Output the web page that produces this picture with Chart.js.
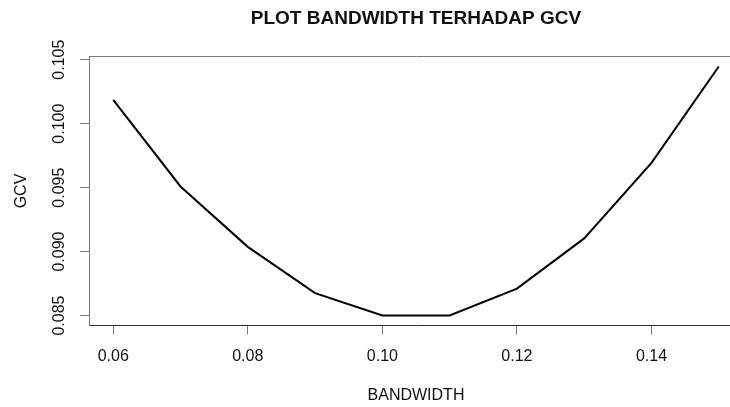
<!DOCTYPE html>
<html>
<head>
<meta charset="utf-8">
<script src="https://cdn.jsdelivr.net/npm/chart.js@4/dist/chart.umd.min.js"></script>
<style>
  html, body { margin: 0; padding: 0; background: #fff; overflow: hidden; }
  canvas { display: block; }
</style>
</head>
<body>
<canvas id="c" width="743" height="407"></canvas>
<script>
// Bandwidth values and the GCV score at each one
const bandwidth = [0.06, 0.07, 0.08, 0.09, 0.10, 0.11, 0.12, 0.13, 0.14, 0.15];
const gcv = [0.10185, 0.09509, 0.09037, 0.08675, 0.0850, 0.0850, 0.0871, 0.09103, 0.09693, 0.10447];

// Axis tick positions
const xTicks = [0.06, 0.08, 0.10, 0.12, 0.14];
const yTicks = [0.085, 0.090, 0.095, 0.100, 0.105];

const FONT = "'Liberation Sans', Arial, sans-serif";
const TEXT = '#111';

// Axis ranges padded 4% beyond the data on each side
function paddedRange(vals) {
  const lo = Math.min(...vals), hi = Math.max(...vals);
  const pad = (hi - lo) * 0.04;
  return [lo - pad, hi + pad];
}
const [xMin, xMax] = paddedRange(bandwidth);
const [yMin, yMax] = paddedRange(gcv);

// Y tick labels drawn vertically, plus the top edge of the plot box
const frame = {
  id: 'frame',
  afterDraw(chart) {
    const { ctx, chartArea, scales } = chart;
    ctx.save();
    ctx.strokeStyle = '#7a7a7a';
    ctx.lineWidth = 1;
    ctx.beginPath();
    ctx.moveTo(chartArea.left, chartArea.top);
    ctx.lineTo(chartArea.right + 5, chartArea.top);
    ctx.stroke();

    ctx.fillStyle = TEXT;
    ctx.font = '16px ' + FONT;
    ctx.textAlign = 'center';
    ctx.textBaseline = 'middle';
    scales.y.ticks.forEach(t => {
      const py = scales.y.getPixelForValue(t.value);
      ctx.save();
      ctx.translate(60, py);
      ctx.rotate(-Math.PI / 2);
      ctx.fillText(t.value.toFixed(3), 0, 0);
      ctx.restore();
    });
    ctx.restore();
  }
};

new Chart(document.getElementById('c'), {
  type: 'line',
  data: {
    datasets: [{
      data: bandwidth.map((b, i) => ({ x: b, y: gcv[i] })),
      borderColor: '#000',
      borderWidth: 2,
      pointRadius: 0,
      tension: 0,
      fill: false
    }]
  },
  options: {
    responsive: false,
    animation: false,
    layout: { padding: 0 },
    plugins: {
      legend: { display: false },
      tooltip: { enabled: false },
      title: {
        display: true,
        text: 'PLOT BANDWIDTH TERHADAP GCV',
        fullSize: false,
        color: TEXT,
        font: { family: FONT, size: 19, weight: 'bold', lineHeight: 1.2 },
        padding: { top: 7.6, bottom: 26.1 }
      }
    },
    scales: {
      x: {
        type: 'linear',
        min: xMin,
        max: xMax,
        afterBuildTicks(scale) { scale.ticks = xTicks.map(v => ({ value: v })); },
        afterFit(scale) { scale.height = 81.5; },
        ticks: {
          color: TEXT,
          font: { family: FONT, size: 16 },
          padding: 12,
          maxRotation: 0,
          callback: v => Number(v).toFixed(2)
        },
        grid: { drawOnChartArea: false, drawTicks: true, tickLength: 9, color: '#7a7a7a' },
        border: { display: true, color: '#333', width: 1 },
        title: {
          display: true,
          text: 'BANDWIDTH',
          color: TEXT,
          font: { family: FONT, size: 16, lineHeight: 1.2 },
          padding: { top: 0, bottom: 1.4 }
        }
      },
      y: {
        type: 'linear',
        min: yMin,
        max: yMax,
        afterBuildTicks(scale) { scale.ticks = yTicks.map(v => ({ value: v })); },
        afterFit(scale) { scale.width = 89; },
        ticks: { display: false },
        grid: { drawOnChartArea: false, drawTicks: true, tickLength: 9, color: '#7a7a7a' },
        border: { display: true, color: '#7a7a7a', width: 1 },
        title: {
          display: true,
          text: 'GCV',
          color: TEXT,
          font: { family: FONT, size: 16, lineHeight: 1.2 },
          padding: { top: 12, bottom: 0 }
        }
      }
    }
  },
  plugins: [frame]
});
</script>
</body>
</html>
